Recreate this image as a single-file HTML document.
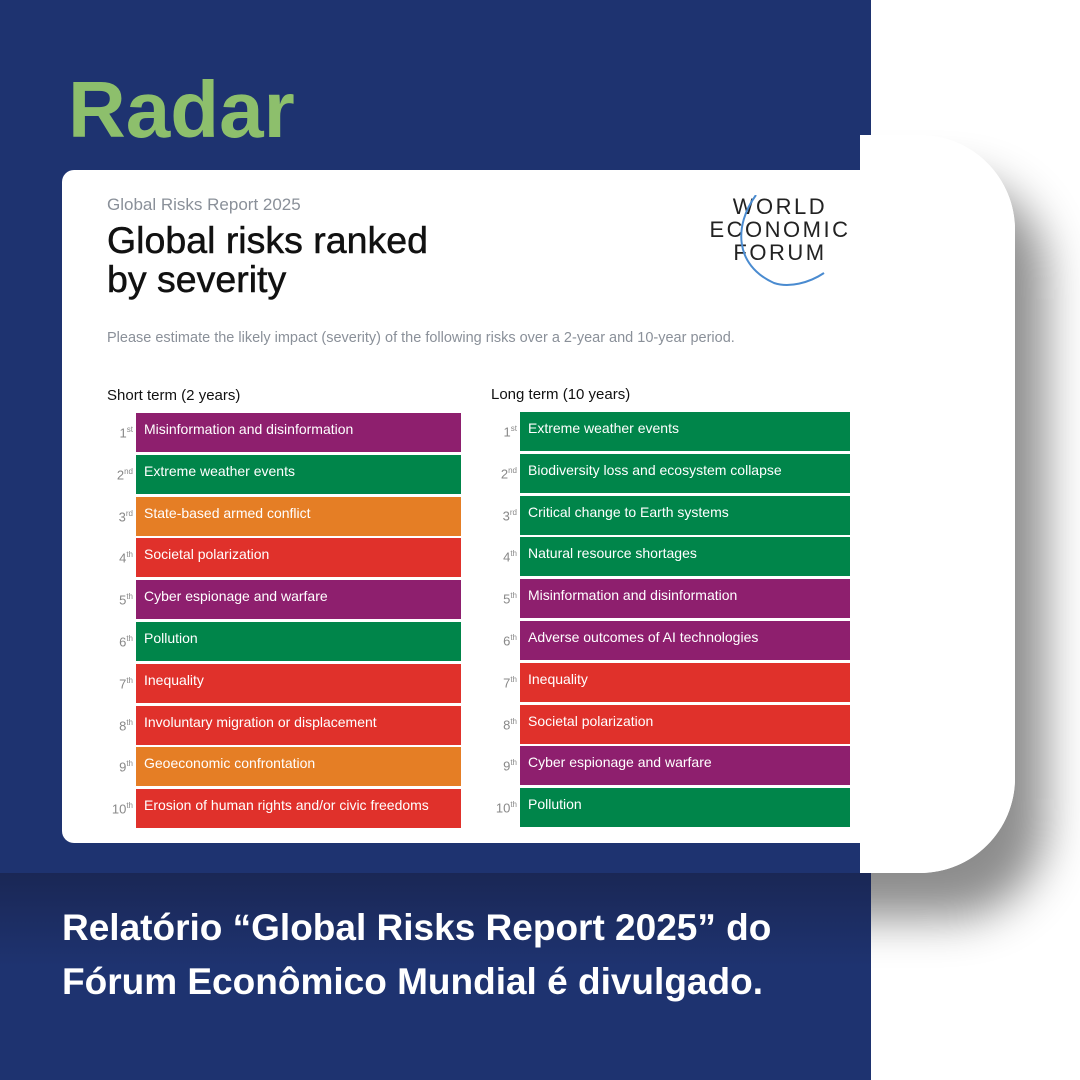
<!DOCTYPE html>
<html><head><meta charset="utf-8"><style>
body{margin:0;width:1080px;height:1080px;position:relative;overflow:hidden;background:#fff;font-family:"Liberation Sans",sans-serif}
.abs{position:absolute}
.bar{position:absolute;height:39px;color:#fff;font-size:14px;line-height:33px;padding-left:8px;box-sizing:border-box}
.rank{position:absolute;width:24px;text-align:right;color:#888;font-size:13px;line-height:33px}
.rank sup{font-size:8px}
</style></head><body>
<div class="abs" style="left:600px;top:135px;width:415px;height:738px;background:#fff;border-radius:0 95px 95px 0;box-shadow:30px 45px 45px rgba(0,0,0,0.45)"></div>
<div class="abs" style="left:0;top:0;width:871px;height:1080px;background:#1e3370"></div>
<div class="abs" style="left:0;top:873px;width:871px;height:207px;background:linear-gradient(#1a2755,#1e3370 45%)"></div>
<div class="abs" style="left:68px;top:64px;font-size:80px;font-weight:bold;color:#8dbf6c">Radar</div>
<div class="abs" style="left:62px;top:170px;width:809px;height:673px;background:#fff;border-radius:12px 0 0 12px"></div>
<div class="abs" style="left:860px;top:135px;width:155px;height:738px;background:#fff;border-radius:0 95px 95px 0"></div>
<div class="abs" style="left:107px;top:195px;font-size:17px;color:#8a9099">Global Risks Report 2025</div>
<div class="abs" style="left:107px;top:221px;font-size:37.5px;line-height:39px;color:#111;-webkit-text-stroke:0.5px #111">Global risks ranked<br>by severity</div>
<div class="abs" style="left:704px;top:195px;width:152px;text-align:center;font-size:22px;line-height:23px;letter-spacing:2.5px;color:#222">WORLD<br>ECONOMIC<br>FORUM
<svg class="abs" style="left:0;top:0" width="152" height="100"><path d="M52 0 C30 30 30 70 70 88 C85 93 105 88 120 78" stroke="#4a8bd0" stroke-width="2" fill="none"/></svg></div>
<div class="abs" style="left:107px;top:330px;font-size:14.5px;color:#8a9099">Please estimate the likely impact (severity) of the following risks over a 2-year and 10-year period.</div>
<div class="abs" style="left:107px;top:387px;font-size:15px;color:#111">Short term (2 years)</div>
<div class="abs" style="left:491px;top:386px;font-size:15px;color:#111">Long term (10 years)</div>
<div id="lists"></div>
<div class="abs" style="left:62px;top:901px;font-size:37px;line-height:54px;font-weight:bold;color:#fff">Relatório “Global Risks Report 2025” do<br>Fórum Econômico Mundial é divulgado.</div>
<script>
const shortRisks=["Misinformation and disinformation","Extreme weather events","State-based armed conflict","Societal polarization","Cyber espionage and warfare","Pollution","Inequality","Involuntary migration or displacement","Geoeconomic confrontation","Erosion of human rights and/or civic freedoms"];
const shortCats=["p","g","o","r","p","g","r","r","o","r"];
const longRisks=["Extreme weather events","Biodiversity loss and ecosystem collapse","Critical change to Earth systems","Natural resource shortages","Misinformation and disinformation","Adverse outcomes of AI technologies","Inequality","Societal polarization","Cyber espionage and warfare","Pollution"];
const longCats=["g","g","g","g","p","p","r","r","p","g"];
const suffixes=["st","nd","rd","th","th","th","th","th","th","th"];
const colors={p:"#8e1f6e",g:"#00854a",o:"#e57e25",r:"#e0312b"};
const root=document.getElementById('lists');
function col(risks,cats,x,y0,w,nm){
  risks.forEach((t,i)=>{
    const y=y0+i*41.8;
    const r=document.createElement('div');r.className='rank';
    
    
    r.style.left=(x-27)+'px';r.style.top=y+'px';r.innerHTML=(i+1)+'<sup>'+suffixes[i]+'</sup>';root.appendChild(r);
    const b=document.createElement('div');b.className='bar';
    
    
    b.style.left=x+'px';b.style.top=y+'px';b.style.width=w+'px';b.style.background=colors[cats[i]];b.textContent=t;root.appendChild(b);
  });
}
col(shortRisks,shortCats,136,413,325,'short-term');
col(longRisks,longCats,520,412,330,'long-term');
</script>
</body></html>
